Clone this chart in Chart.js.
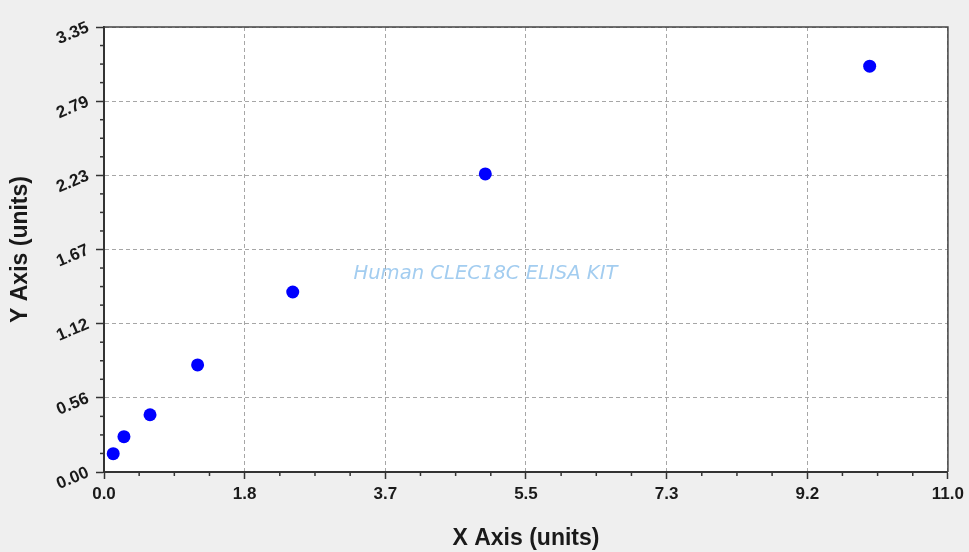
<!DOCTYPE html>
<html>
<head>
<meta charset="utf-8">
<script src="https://cdn.jsdelivr.net/npm/chart.js@4.4.0/dist/chart.umd.min.js"></script>
<style>
  html, body { margin: 0; padding: 0; background: #efefef; }
  #wrap { width: 969px; height: 552px; }
</style>
</head>
<body>
<div id="wrap"><canvas id="chart" width="969" height="552"></canvas></div>
<script>
// standard curve points
const xValues = [0.12, 0.26, 0.60, 1.22, 2.46, 4.97, 9.98];
const yValues = [0.138, 0.266, 0.431, 0.806, 1.355, 2.244, 3.055];

const xTickLabels = ['0.0', '1.8', '3.7', '5.5', '7.3', '9.2', '11.0'];
const yTickLabels = ['0.00', '0.56', '1.12', '1.67', '2.23', '2.79', '3.35'];
const xMax = 11;
const yMax = 3.35;
const minorPerMajor = 4;

const watermark = 'Human CLEC18C ELISA KIT';

Chart.defaults.font.family = '"Liberation Sans", Arial, sans-serif';
Chart.defaults.color = '#1a1a1a';

function majorTicks(labels, max) {
  return labels.map((l, i) => ({ value: i * max / (labels.length - 1) }));
}

// grey page, white plot box, watermark under the points
const plotBackground = {
  id: 'plotBackground',
  beforeDraw(chart) {
    const { ctx, chartArea: a } = chart;
    ctx.save();
    ctx.fillStyle = '#efefef';
    ctx.fillRect(0, 0, chart.width, chart.height);
    ctx.fillStyle = '#ffffff';
    ctx.fillRect(a.left, a.top, a.right - a.left, a.bottom - a.top);
    ctx.restore();
  },
  beforeDatasetsDraw(chart) {
    const { ctx, chartArea: a } = chart;
    ctx.save();
    let size = 18;
    ctx.font = 'italic ' + size + 'px "DejaVu Sans"';
    size = size * 264 / ctx.measureText(watermark).width;
    ctx.font = 'italic ' + size + 'px "DejaVu Sans"';
    ctx.fillStyle = '#a3cdf0';
    ctx.textAlign = 'center';
    ctx.textBaseline = 'middle';
    const cx = a.left + (a.right - a.left) * 0.452;
    const cy = a.top + (a.bottom - a.top) * 0.555;
    ctx.fillText(watermark, cx, cy);
    ctx.restore();
  }
};

// minor tick marks and the top/right frame
const frameAndMinor = {
  id: 'frameAndMinor',
  afterDraw(chart) {
    const { ctx, chartArea: a, scales } = chart;
    ctx.save();
    ctx.strokeStyle = '#333';
    ctx.lineWidth = 1.5;

    const xs = scales.x;
    const nx = (xTickLabels.length - 1) * minorPerMajor;
    for (let i = 1; i < nx; i++) {
      if (i % minorPerMajor === 0) continue;
      const px = xs.getPixelForValue(i * xMax / nx);
      ctx.beginPath();
      ctx.moveTo(px, a.bottom);
      ctx.lineTo(px, a.bottom + 4);
      ctx.stroke();
    }
    const ys = scales.y;
    const ny = (yTickLabels.length - 1) * minorPerMajor;
    for (let i = 1; i < ny; i++) {
      if (i % minorPerMajor === 0) continue;
      const py = ys.getPixelForValue(i * yMax / ny);
      ctx.beginPath();
      ctx.moveTo(a.left, py);
      ctx.lineTo(a.left - 4, py);
      ctx.stroke();
    }

    ctx.strokeStyle = '#444';
    ctx.beginPath();
    ctx.moveTo(a.left, a.top);
    ctx.lineTo(a.right, a.top);
    ctx.lineTo(a.right, a.bottom);
    ctx.stroke();
    ctx.restore();
  }
};

const ctx = document.getElementById('chart').getContext('2d');
new Chart(ctx, {
  type: 'scatter',
  data: {
    datasets: [{
      label: 'Standard',
      data: xValues.map((x, i) => ({ x: x, y: yValues[i] })),
      backgroundColor: '#0000ff',
      borderWidth: 0,
      pointRadius: 6.5,
      pointHoverRadius: 6.5
    }]
  },
  options: {
    responsive: false,
    animation: false,
    layout: { padding: { top: 27, right: 21, left: 0, bottom: 0 } },
    plugins: {
      legend: { display: false },
      tooltip: { enabled: false }
    },
    scales: {
      x: {
        type: 'linear',
        min: 0,
        max: xMax,
        afterFit(scale) { scale.height = 80; },
        afterBuildTicks(scale) { scale.ticks = majorTicks(xTickLabels, xMax); },
        ticks: {
          autoSkip: false,
          maxRotation: 0,
          padding: 5,
          color: '#1a1a1a',
          font: { size: 17, weight: 'bold' },
          callback: (v, i) => xTickLabels[i]
        },
        grid: {
          color: '#a6a6a6',
          tickColor: '#333',
          tickLength: 7,
          tickWidth: 1.5
        },
        border: { color: '#333', width: 2, dash: [4, 3] },
        title: {
          display: true,
          text: 'X Axis (units)',
          color: '#1a1a1a',
          font: { size: 23, weight: 'bold' },
          padding: { top: 0, bottom: 0 }
        }
      },
      y: {
        type: 'linear',
        min: 0,
        max: yMax,
        afterFit(scale) { scale.width = 104; },
        afterBuildTicks(scale) { scale.ticks = majorTicks(yTickLabels, yMax); },
        ticks: {
          autoSkip: false,
          minRotation: 23,
          maxRotation: 23,
          padding: 8,
          color: '#1a1a1a',
          font: { size: 17, weight: 'bold' },
          callback: (v, i) => yTickLabels[i]
        },
        grid: {
          color: '#a6a6a6',
          tickColor: '#333',
          tickLength: 8,
          tickWidth: 1.5
        },
        border: { color: '#333', width: 2, dash: [4, 3] },
        title: {
          display: true,
          text: 'Y Axis (units)',
          color: '#1a1a1a',
          font: { size: 23, weight: 'bold' },
          padding: { top: 7, bottom: 0 }
        }
      }
    }
  },
  plugins: [plotBackground, frameAndMinor]
});
</script>
</body>
</html>
